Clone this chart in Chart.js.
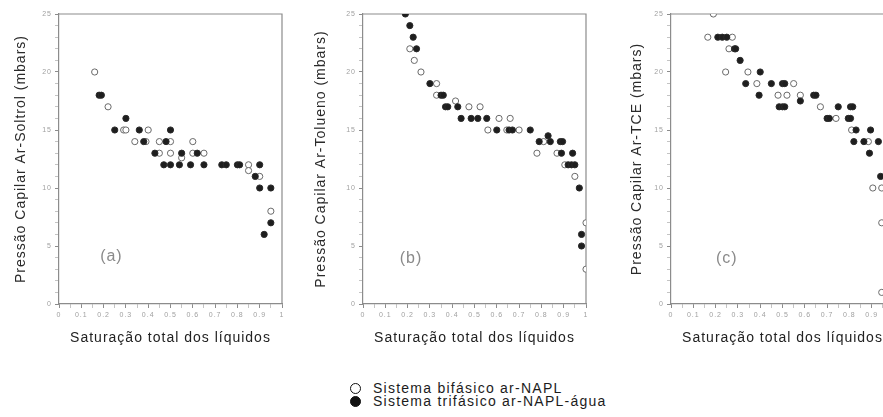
<!DOCTYPE html>
<html>
<head>
<meta charset="utf-8">
<script src="https://cdn.jsdelivr.net/npm/chart.js@4.4.0/dist/chart.umd.min.js"></script>
<style>
  html, body { margin: 0; padding: 0; background: #fff; width: 883px; height: 417px; overflow: hidden; }
  .panel { position: absolute; top: 0; }
  .legend { position: absolute; left: 350px; top: 382px; font: 14px 'Liberation Sans', Arial, sans-serif; letter-spacing: 1.25px; color: #1c1c1c; line-height: 12.7px; white-space: nowrap; }
  .legend .mark { display: inline-block; box-sizing: border-box; width: 11px; height: 11px; border-radius: 50%; border: 1.5px solid #111; margin-right: 12px; vertical-align: -1px; }
  .legend .mark.filled { background: #111; }
</style>
</head>
<body>
<canvas id="panelA" class="panel" width="300" height="350" style="left:0px"></canvas>
<canvas id="panelB" class="panel" width="300" height="350" style="left:304px"></canvas>
<canvas id="panelC" class="panel" width="300" height="350" style="left:612px"></canvas>

<div class="legend">
  <div><span class="mark"></span>Sistema bifásico ar-NAPL</div>
  <div><span class="mark filled"></span>Sistema trifásico ar-NAPL-água</div>
</div>

<script>
// axis tick labels (minor ticks sit between them)
const xTickLabels = ['0', '0.1', '0.2', '0.3', '0.4', '0.5', '0.6', '0.7', '0.8', '0.9', '1'];
const yTickLabels = ['0', '5', '10', '15', '20', '25'];

const seriesNames = ['Sistema bifásico ar-NAPL', 'Sistema trifásico ar-NAPL-água'];
const xTitle = 'Saturação total dos líquidos';

// (a) Ar-Soltrol : [saturação, pressão]
const soltrolBifasico = [
  [0.16, 20], [0.22, 17], [0.29, 15], [0.30, 15], [0.40, 15],
  [0.34, 14], [0.39, 14], [0.45, 14], [0.50, 14], [0.60, 14],
  [0.45, 13], [0.50, 13], [0.55, 12.6], [0.60, 13], [0.65, 13],
  [0.85, 12], [0.85, 11.5], [0.90, 11], [0.95, 8]
];
const soltrolTrifasico = [
  [0.18, 18], [0.19, 18], [0.30, 16], [0.25, 15], [0.36, 15], [0.50, 15],
  [0.38, 14], [0.48, 14], [0.43, 13], [0.55, 13], [0.62, 13],
  [0.47, 12], [0.50, 12], [0.54, 12], [0.59, 12], [0.65, 12], [0.73, 12],
  [0.75, 12], [0.80, 12], [0.81, 12], [0.90, 12], [0.88, 11],
  [0.90, 10], [0.95, 10], [0.95, 7], [0.92, 6]
];

// (b) Ar-Tolueno
const toluenoBifasico = [
  [0.21, 22], [0.23, 21], [0.26, 20], [0.33, 19], [0.33, 18], [0.415, 17.5],
  [0.475, 17], [0.525, 17], [0.61, 16], [0.66, 16], [0.56, 15], [0.645, 15],
  [0.70, 15], [0.81, 14], [0.78, 13], [0.87, 13], [0.905, 12], [0.95, 11],
  [1.0, 7], [1.0, 3]
];
const toluenoTrifasico = [
  [0.19, 25], [0.21, 24], [0.225, 23], [0.24, 22], [0.30, 19], [0.35, 18],
  [0.36, 18], [0.37, 17], [0.38, 17], [0.425, 17], [0.44, 16], [0.485, 16],
  [0.515, 16], [0.555, 16], [0.60, 15], [0.655, 15], [0.67, 15], [0.75, 15],
  [0.79, 14], [0.83, 14.5], [0.84, 14], [0.885, 14], [0.895, 14], [0.89, 13],
  [0.94, 13], [0.92, 12], [0.935, 12], [0.95, 12], [0.97, 10], [0.98, 6], [0.98, 5]
];

// (c) Ar-TCE
const tceBifasico = [
  [0.19, 25], [0.165, 23], [0.275, 23], [0.26, 22], [0.245, 20], [0.345, 20],
  [0.385, 19], [0.55, 19], [0.48, 18], [0.52, 18], [0.58, 18], [0.67, 17],
  [0.74, 16], [0.81, 15], [0.885, 14], [0.905, 10], [0.945, 10], [0.945, 7],
  [0.945, 1]
];
const tceTrifasico = [
  [0.21, 23], [0.23, 23], [0.25, 23], [0.285, 22], [0.29, 22], [0.31, 21],
  [0.40, 20], [0.335, 19], [0.45, 19], [0.50, 19], [0.51, 19], [0.395, 18],
  [0.64, 18], [0.65, 18], [0.58, 17.5], [0.485, 17], [0.50, 17], [0.51, 17],
  [0.75, 17], [0.805, 17], [0.815, 17], [0.70, 16], [0.71, 16], [0.795, 16],
  [0.805, 16], [0.83, 15], [0.895, 15], [0.82, 14], [0.865, 14], [0.93, 14],
  [0.89, 13], [0.94, 11]
];

const FONT = "'Liberation Sans', Arial, sans-serif";
const AXIS_GRAY = '#8c8c8c';

// top and right edges of the box + the (a)/(b)/(c) tag
const framePlugin = {
  id: 'frame',
  beforeDatasetsDraw(chart, args, opts) {
    const { ctx, chartArea } = chart;
    ctx.save();
    ctx.strokeStyle = AXIS_GRAY;
    ctx.lineWidth = 1.2;
    ctx.beginPath();
    ctx.moveTo(chartArea.left, chartArea.top);
    ctx.lineTo(chartArea.right, chartArea.top);
    ctx.lineTo(chartArea.right, chartArea.bottom);
    ctx.stroke();

    const tx = chart.scales.x.getPixelForValue(opts.tagX);
    const ty = chart.scales.y.getPixelForValue(opts.tagY);
    ctx.fillStyle = '#8a8a8a';
    ctx.font = '16px ' + FONT;
    ctx.textAlign = 'center';
    ctx.textBaseline = 'middle';
    ctx.fillText(opts.tag, tx, ty);
    ctx.restore();
  }
};

const spacingPlugin = {
  id: 'spacing',
  beforeDraw(chart) {
    chart.ctx.letterSpacing = '1px';
  }
};

const toPoints = (pairs) => pairs.map(([x, y]) => ({ x, y }));

function makePanel(canvasId, yTitle, openData, filledData, tag, tagX, tagY, yTitlePad) {
  const ctx = document.getElementById(canvasId).getContext('2d');
  return new Chart(ctx, {
    type: 'scatter',
    data: {
      datasets: [
        {
          label: seriesNames[1],
          data: toPoints(filledData),
          pointRadius: 3.1,
          pointBackgroundColor: '#1e1e1e',
          pointBorderColor: '#2a2a2a',
          pointBorderWidth: 1,
        },
        {
          label: seriesNames[0],
          data: toPoints(openData),
          pointRadius: 3.1,
          pointBackgroundColor: '#ffffff',
          pointBorderColor: '#6a6a6a',
          pointBorderWidth: 1,
        },
      ],
    },
    options: {
      responsive: false,
      animation: false,
      events: [],
      layout: { padding: { top: 14, left: 0, right: 18, bottom: 0 } },
      plugins: {
        legend: { display: false },
        tooltip: { enabled: false },
        frame: { tag, tagX, tagY },
      },
      scales: {
        x: {
          type: 'linear',
          min: 0,
          max: 1,
          afterFit: (scale) => { scale.height = 46; },
          border: { display: true, color: AXIS_GRAY, width: 1.2 },
          grid: {
            drawOnChartArea: false,
            drawTicks: true,
            tickLength: 4,
            tickColor: (c) => (c.index % 2 === 0 ? AXIS_GRAY : '#c4c4c4'),
          },
          ticks: {
            stepSize: 0.05,
            autoSkip: false,
            maxRotation: 0,
            padding: 3,
            color: '#a0a0a0',
            font: { family: FONT, size: 7 },
            callback: (v, i) => (i % 2 === 0 ? xTickLabels[i / 2] : ''),
          },
          title: {
            display: true,
            text: xTitle,
            color: '#222',
            font: { family: FONT, size: 14 },
            padding: { top: 0, bottom: 3.6 },
          },
        },
        y: {
          type: 'linear',
          min: 0,
          max: 25,
          afterFit: (scale) => { scale.width = 59; },
          border: { display: true, color: AXIS_GRAY, width: 1.2 },
          grid: {
            drawOnChartArea: false,
            drawTicks: true,
            tickLength: 4,
            tickColor: (c) => (c.index % 5 === 0 ? AXIS_GRAY : '#c4c4c4'),
          },
          ticks: {
            stepSize: 1,
            autoSkip: false,
            padding: 3,
            color: '#a0a0a0',
            font: { family: FONT, size: 7 },
            callback: (v, i) => (i % 5 === 0 ? yTickLabels[i / 5] : ''),
          },
          title: {
            display: true,
            text: yTitle,
            color: '#2a2a2a',
            font: { family: FONT, size: 14 },
            padding: { top: yTitlePad, bottom: 0 },
          },
        },
      },
    },
    plugins: [spacingPlugin, framePlugin],
  });
}

makePanel('panelA', 'Pressão Capilar Ar-Soltrol (mbars)', soltrolBifasico, soltrolTrifasico, '(a)', 0.235, 4.1, 12.3);
makePanel('panelB', 'Pressão Capilar Ar-Tolueno (mbars)', toluenoBifasico, toluenoTrifasico, '(b)', 0.215, 3.9, 8.3);
makePanel('panelC', 'Pressão Capilar Ar-TCE (mbars)', tceBifasico, tceTrifasico, '(c)', 0.25, 3.9, 16.3);
</script>
</body>
</html>
